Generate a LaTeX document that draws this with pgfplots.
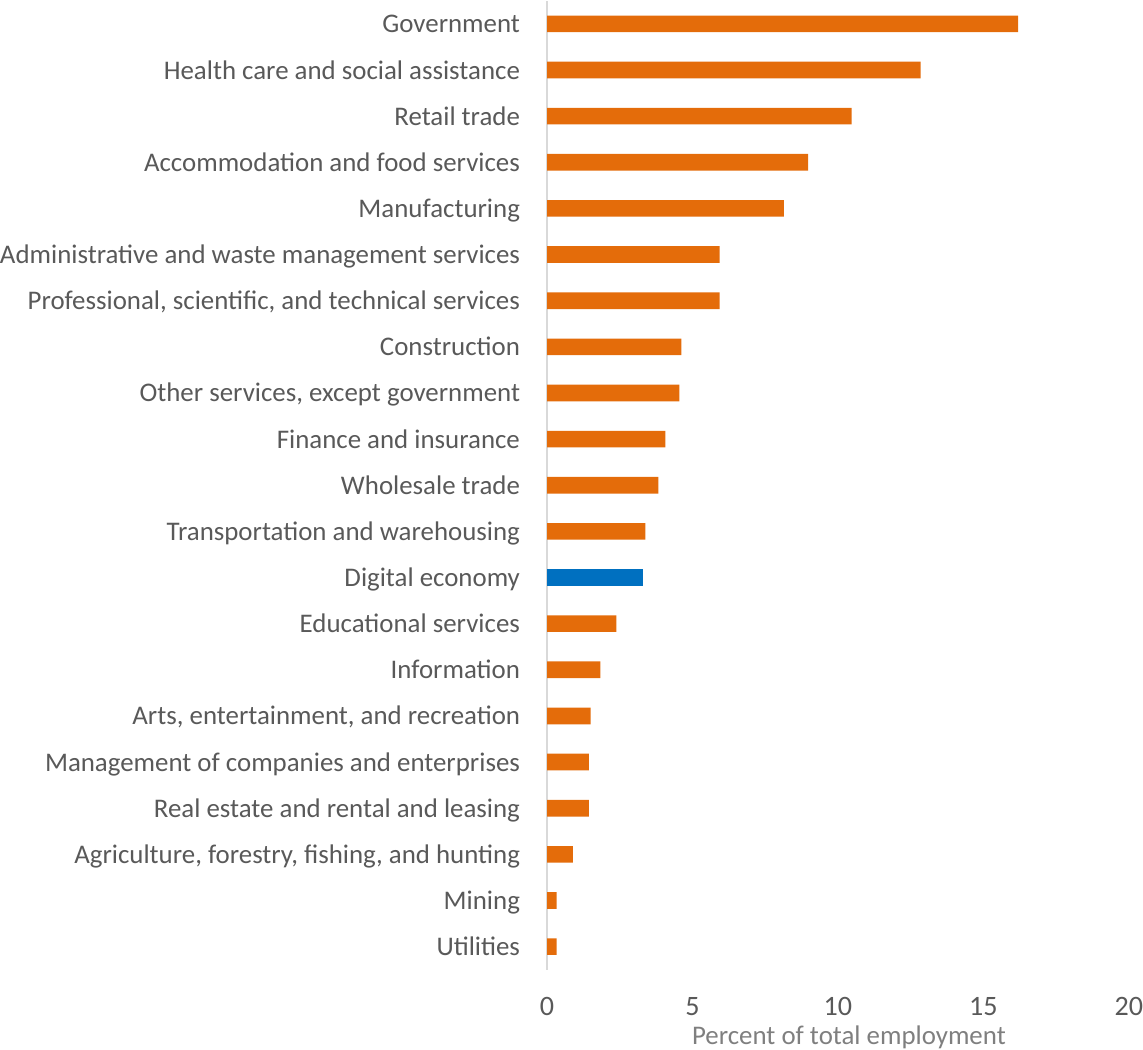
\documentclass[border=0pt]{standalone}
\usepackage{pgfplots}
\pgfplotsset{compat=1.18}
\usepackage{fontspec}
\setmainfont{Carlito}
\definecolor{barorange}{HTML}{E46C0A}
\definecolor{barblue}{HTML}{0070C0}
\definecolor{txtgray}{HTML}{595959}
\definecolor{lblgray}{HTML}{7F7F7F}
\definecolor{axgray}{HTML}{D9D9D9}
\begin{document}
\begin{tikzpicture}
\begin{axis}[
    xbar,
    scale only axis,
    width=290pt,
    height=483pt,
    xmin=0, xmax=20,
    ymin=-0.5, ymax=20.5,
    bar width=8.3pt,
    axis lines*=left,
    x axis line style={draw=none},
    y axis line style={draw=axgray, line width=0.8pt},
    major tick length=0pt,
    xtick={0,5,10,15,20},
    ytick={0,...,20},
    yticklabels={Utilities, Mining, {Agriculture, forestry, fishing, and hunting},
        Real estate and rental and leasing, Management of companies and enterprises,
        {Arts, entertainment, and recreation}, Information, Educational services,
        Digital economy, Transportation and warehousing, Wholesale trade,
        Finance and insurance, {Other services, except government}, Construction,
        {Professional, scientific, and technical services},
        Administrative and waste management services, Manufacturing,
        Accommodation and food services, Retail trade,
        Health care and social assistance, Government},
    y tick label style={font=\fontsize{13.4}{15}\selectfont, text=txtgray,
        anchor=base east, inner sep=0pt, xshift=-13.3pt, yshift=-4.5pt},
    x tick label style={font=\fontsize{14}{16}\selectfont, text=txtgray,
        anchor=north, inner sep=0pt, yshift=-13.5pt},
    /pgf/number format/assume math mode=true,
    xlabel={Percent of total employment},
    xlabel style={font=\fontsize{13.4}{15}\selectfont, text=lblgray, inner sep=0pt,
        yshift=-5pt, xshift=5.5pt},
    clip=false,
]
\addplot[fill=barorange, draw=none, bar shift=0pt] coordinates {
    (0.33,0) (0.33,1) (0.89,2) (1.44,3) (1.44,4) (1.50,5) (1.83,6) (2.38,7)
    (3.38,9) (3.83,10) (4.07,11) (4.55,12) (4.62,13) (5.93,14) (5.93,15)
    (8.14,16) (8.98,17) (10.47,18) (12.84,19) (16.2,20)
};
\addplot[fill=barblue, draw=none, bar shift=0pt] coordinates {(3.31,8)};
\end{axis}
\end{tikzpicture}
\end{document}
